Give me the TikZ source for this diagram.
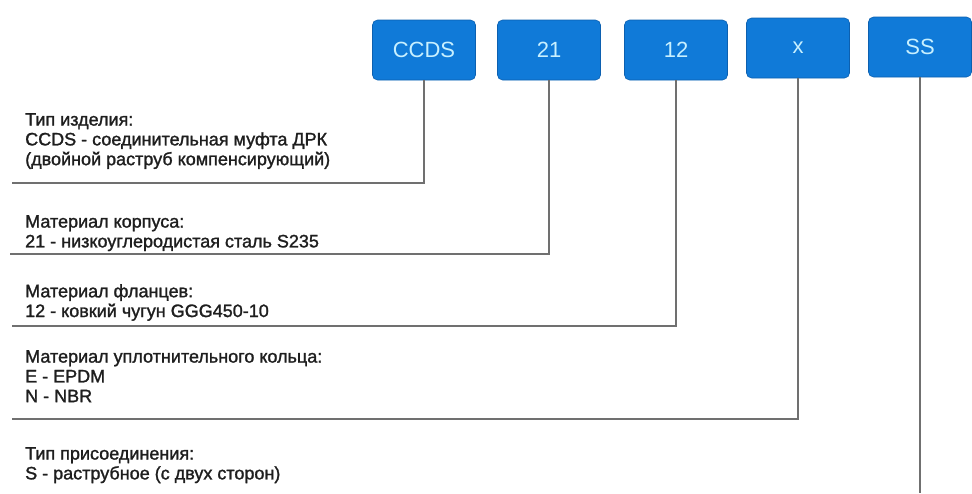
\documentclass[tikz,border=0pt]{standalone}
\usepackage{fontspec}
\setmainfont{Liberation Sans}
\newfontfamily\labelfont{Liberation Sans}[FakeBold=1.4]
\usepackage{tikz}
\usetikzlibrary{calc}
\definecolor{keyblue}{RGB}{16,122,216}
\definecolor{keyedge}{RGB}{12,96,176}
\definecolor{keytext}{RGB}{200,240,255}
\definecolor{leadgray}{RGB}{112,112,112}
\definecolor{labeltext}{RGB}{30,30,30}
\newcommand{\leadwidth}{1.4pt}
\newcommand{\labelsize}{\labelfont\fontsize{18}{19.8}\selectfont}

\begin{document}
\begin{tikzpicture}[x=1pt,y=-1pt,
  key/.style={fill=keyblue, draw=keyedge, line width=0.6pt, rounded corners=5pt,
    minimum width=103pt, minimum height=60pt, text=keytext, font=\fontsize{22}{22}\selectfont},
  lead/.style={draw=leadgray, line width=\leadwidth},
  descr/.style={anchor=north west, inner sep=0pt, align=left, text=labeltext, font=\labelsize}]
\useasboundingbox (0, 0) rectangle (972, 493);
%code boxes
\node[key] (ccds) at (424, 50) {CCDS};
\node[key] (n21) at (549, 50) {21};
\node[key] (n12) at (676, 50) {12};
\node[key] (nx) at (798, 48) {x};
\node[key] (nss) at (920, 47) {SS};
%free ends of the leads
\coordinate (e1) at (12, 183);
\coordinate (e2) at (10, 254);
\coordinate (e3) at (12, 326);
\coordinate (e4) at (12, 419);
\coordinate (e5) at (920, 493);
%leads
\draw[lead] (ccds.south) |- (e1);
\draw[lead] (n21.south) |- (e2);
\draw[lead] (n12.south) |- (e3);
\draw[lead] (nx.south) |- (e4);
\draw[lead] (nss.south) -- (e5);
%descriptions
\node[descr] (d1) at (25, 113) {Тип изделия:\\CCDS - соединительная муфта ДРК\\(двойной раструб компенсирующий)};
\node[descr] (d2) at (25, 215) {Материал корпуса:\\21 - низкоуглеродистая сталь S235};
\node[descr] (d3) at (25, 284) {Материал фланцев:\\12 - ковкий чугун GGG450-10};
\node[descr] (d4) at (25, 350) {Материал уплотнительного кольца:\\E - EPDM\\N - NBR};
\node[descr] (d5) at (25, 447) {Тип присоединения:\\S - раструбное (с двух сторон)};
\end{tikzpicture}
\end{document}
